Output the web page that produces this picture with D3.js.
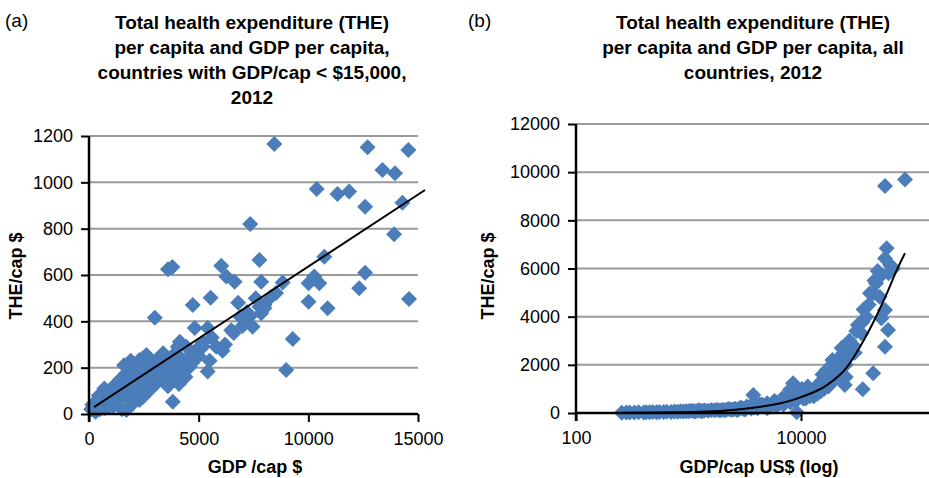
<!DOCTYPE html>
<html>
<head>
<meta charset="utf-8">
<title>THE per capita vs GDP per capita</title>
<script src="https://d3js.org/d3.v7.min.js"></script>
<style>
  body { margin: 0; background: #fff; }
  text { font-family: "Liberation Sans", Arial, Helvetica, sans-serif; fill: #000; }
  .title { font-size: 19px; font-weight: bold; }
  .axtitle { font-size: 18px; font-weight: bold; }
  .tick text { font-size: 18px; }
  .panel { font-size: 19px; }
</style>
</head>
<body>
<div id="chart"></div>
<script>
// ---- panel (a): countries with GDP/cap < 15000 ----
var gdpA = [8450,12700,14560,13380,13950,10380,11330,11860,12590,14290,13910,7350,10730,7770,3600,3800,6030,6260,6640,7850,
  8830,10010,10270,10500,12590,12320,8300,8530,8000,7850,10010,10880,14590,9290,8990,4730,5545,3000,4820,5410,
  6485,7320,7460,7770,8000,6090,5410,4140,4440,4890,5190,4590,3820,4440,4050,6900,4200,3900,4600,4000,
  3700,3500,3300,200,350,500,650,800,950,1100,1250,1400,1550,1700,1850,2000,2150,2300,2450,2620,
  2800,1600,1900,2100,2500,2700,300,500,700,900,1100,1300,1500,1710,2015,2300,2470,2770,3075,3380,
  2600,2900,3200,1800,2200,1400,1000,600,400,800,1200,1600,2000,2400,2800,3100,3380,3680,3985,4290,
  3075,3530,3200,2900,3600,3900,4100,4400,4700,5000,5200,5600,5800,6200,6600,7000,7200,6800,7600,7100,
  5500,100,250,150,450,700,900,1150,1350,1500,1750,1950,2250];
var theA = [1165,1151,1140,1053,1039,971,950,960,895,912,776,820,679,665,625,635,640,593,571,571,
  568,564,593,564,610,543,506,522,456,435,485,456,496,324,190,470,502,416,371,371,
  362,420,377,463,470,273,183,312,290,276,290,204,53,233,290,420,240,260,250,200,
  180,210,190,30,40,60,70,90,100,118,130,147,160,176,190,204,215,233,240,255,
  230,210,230,180,200,190,10,20,25,30,35,40,20,17,46,60,75,104,133,176,
  120,140,160,70,90,60,50,40,25,55,80,100,120,150,170,200,262,233,204,176,
  233,147,240,200,120,150,130,160,220,250,310,330,290,300,350,380,440,480,500,400,
  230,20,15,40,80,110,60,100,110,135,140,160,130];
// linear trend end points
var trendA = [[230, 30], [15320, 967]];

// ---- panel (b): all countries, log GDP axis ----
var gdpB = [255,280,300,330,360,400,420,450,480,520,550,600,640,700,750,800,850,900,950,1000,
  1100,1200,1300,1400,1500,1600,1700,1800,1900,2000,2200,2400,2600,2800,3000,3200,3500,3800,3770,4000,
  4200,4500,4800,5000,5500,6000,6500,7000,7500,8000,8500,7940,9150,9000,10000,10500,11000,12000,12800,13000,
  14000,14700,15000,16000,16900,17500,18000,19300,20000,20600,21500,22000,23700,24500,25000,26000,27500,29000,30000,32000,
  34400,35400,35400,38000,41000,43800,43800,46500,50000,50000,55800,51800,59400,55800,55800,57800,62000,66000,55800,84000,
  1050,1150,1250,1350,2100,2300,2500,2700,2900,3100,3300,3600,4100,4300,4600,5200,5800,6200,6800,7200,
  7700,8200,8800,9500,10200,11500,13500,15500,17000,19000,23000,27000,31000,36000,40000,45000,48000,60000,
  5000,6000,7000,8000,9000,11000,12000,13000,14000,16000,18000,20000,22000,15000,25000];
var theB = [15,20,25,20,30,25,35,30,40,35,45,40,50,45,60,55,70,60,75,70,
  80,90,75,100,95,120,110,130,100,140,150,130,180,160,200,150,250,220,747,300,
  250,350,280,400,350,450,400,500,550,600,1233,955,30,700,800,600,750,900,955,700,
  1100,1233,900,1300,1507,1100,1600,1785,1400,2064,1700,2300,2479,1163,2000,2300,2616,2823,2500,3650,
  3310,3790,984,4000,4970,4970,1648,5385,5660,4830,4277,3930,3446,2753,6420,6840,6145,6000,9425,9700,
  90,60,110,90,110,170,150,120,230,170,270,190,200,350,300,250,500,350,600,450,
  700,500,900,650,1000,1100,1000,1600,1800,2200,2700,3000,3400,4300,4500,5500,5900,5800,
  200,300,350,450,500,600,700,850,800,1000,1300,1700,1900,1300,1500];
// trend curve points
var trendB = [[256,10],[1096,41],[3050,166],[10000,660],[17000,1160],[25650,1909],[33400,2740],
  [43600,3740],[58100,4980],[71300,5950],[84000,6640]];

var xTicksA = [0, 5000, 10000, 15000];
var yTicksA = [0, 200, 400, 600, 800, 1000, 1200];
var xTicksB = [100, 10000];
var yTicksB = [0, 2000, 4000, 6000, 8000, 10000, 12000];

var W = 929, H = 478;
var blue = "#4a7dba";
var svg = d3.select("#chart").append("svg").attr("width", W).attr("height", H);

function diamond(g, pts, x, y) {
  var r = 8;
  g.selectAll("path.pt").data(pts).enter().append("path")
    .attr("class", "pt")
    .attr("d", function (d) {
      var cx = x(d[0]), cy = y(d[1]);
      return "M" + cx + "," + (cy - r) + "L" + (cx + r) + "," + cy + "L" + cx + "," + (cy + r) + "L" + (cx - r) + "," + cy + "Z";
    })
    .attr("fill", blue);
}

function panel(opt) {
  var x = opt.x, y = opt.y;
  var g = svg.append("g");
  var x0 = x.range()[0];

  // gridlines
  g.selectAll("line.grid").data(opt.yTicks.slice(1)).enter().append("line")
    .attr("x1", x0).attr("x2", opt.gridEnd)
    .attr("y1", function (d) { return y(d); }).attr("y2", function (d) { return y(d); })
    .attr("stroke", "#9a9a9a").attr("stroke-width", 2);

  var pts = d3.zip(opt.gdp, opt.the);
  diamond(g.append("g"), pts, x, y);

  var line = d3.line().x(function (d) { return x(d[0]); }).y(function (d) { return y(d[1]); });
  if (opt.curve) line.curve(d3.curveMonotoneX);
  g.append("path").datum(opt.trend).attr("d", line)
    .attr("fill", "none").attr("stroke", "#000").attr("stroke-width", 2);

  // axes
  var ya = g.append("g").attr("transform", "translate(" + x0 + ",0)")
    .call(d3.axisLeft(y).tickValues(opt.yTicks).tickSize(8).tickPadding(8).tickFormat(d3.format("d")));
  var xa = g.append("g").attr("transform", "translate(0," + y(0) + ")")
    .call(d3.axisBottom(x).tickValues(opt.xTicks).tickSize(8).tickPadding(10).tickFormat(d3.format("d")));
  xa.select(".domain").attr("d", "M" + x0 + ",0H" + opt.axisEnd);
  ya.select(".domain").attr("d", "M0," + y.range()[1] + "V" + (y(0) + 8));
  g.selectAll(".domain").attr("stroke", "#000").attr("stroke-width", 2.5);
  g.selectAll(".tick line").attr("stroke", "#000").attr("stroke-width", 2);

  // titles
  var t = g.append("text").attr("class", "title").attr("text-anchor", "middle");
  opt.title.forEach(function (s, i) {
    t.append("tspan").attr("x", opt.titleX).attr("y", 29 + i * 25).text(s);
  });
  g.append("text").attr("class", "panel").attr("x", opt.panelX).attr("y", 27).text(opt.panel);
  g.append("text").attr("class", "axtitle").attr("text-anchor", "middle")
    .attr("x", opt.xTitleX).attr("y", 473).text(opt.xTitle);
  g.append("text").attr("class", "axtitle").attr("text-anchor", "middle")
    .attr("transform", "translate(" + opt.yTitleX + ",276) rotate(-90)").text(opt.yTitle);
}

panel({
  x: d3.scaleLinear().domain([0, 15000]).range([89, 418]),
  y: d3.scaleLinear().domain([0, 1200]).range([414, 136]),
  gdp: gdpA, the: theA, trend: trendA, curve: false,
  xTicks: xTicksA, yTicks: yTicksA, gridEnd: 418, axisEnd: 418,
  title: ["Total health expenditure (THE)", "per capita and GDP per capita,", "countries with GDP/cap < $15,000,", "2012"],
  titleX: 252, panel: "(a)", panelX: 5,
  xTitle: "GDP /cap $", xTitleX: 255, yTitle: "THE/cap $", yTitleX: 22
});

panel({
  x: d3.scaleLog().domain([100, 1e6]).range([576, 1026]),
  y: d3.scaleLinear().domain([0, 12000]).range([413, 124]),
  gdp: gdpB, the: theB, trend: trendB, curve: true,
  xTicks: xTicksB, yTicks: yTicksB, gridEnd: 929, axisEnd: 929,
  title: ["Total health expenditure (THE)", "per capita and GDP per capita, all", "countries, 2012"],
  titleX: 753, panel: "(b)", panelX: 468,
  xTitle: "GDP/cap US$ (log)", xTitleX: 759, yTitle: "THE/cap $", yTitleX: 494
});
</script>
</body>
</html>
